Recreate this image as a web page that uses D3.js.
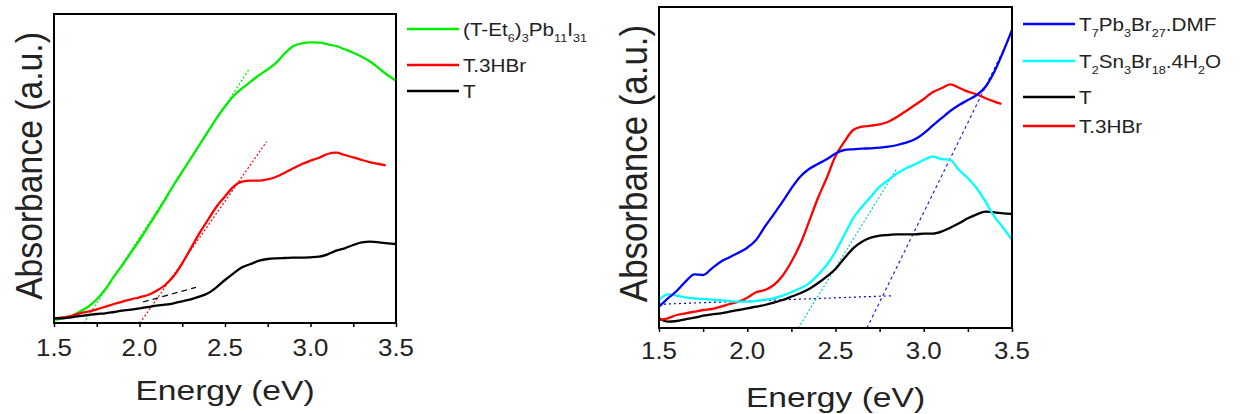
<!DOCTYPE html>
<html><head><meta charset="utf-8">
<script src="https://cdn.jsdelivr.net/npm/d3@7"></script>
<style>body{margin:0;background:#fff}svg{display:block}text{font-family:"Liberation Sans",Arial,sans-serif;fill:#222}</style>
</head><body><svg id="c" width="1242" height="414"></svg>
<script>
// ---------- data: energy (eV) grid and absorbance (arbitrary units) ----------
const energy = [1.50,1.55,1.60,1.65,1.70,1.75,1.80,1.85,1.90,1.95,2.00,2.05,2.10,2.15,2.20,2.25,2.30,2.35,2.40,2.45,2.50,
                2.55,2.60,2.65,2.70,2.75,2.80,2.85,2.90,2.95,3.00,3.05,3.10,3.15,3.20,3.25,3.30,3.35,3.40,3.45,3.50];
// left panel
const leftGreen = [3,4.7,7,11.3,16.3,23.7,33.7,46.3,58,70.3,83,96.3,109.7,123.7,138,151.3,164.7,178,191.3,204.7,216.5,
                   227,234.7,241.3,248,253.7,260.3,269.7,277,279.7,280.7,280.3,278.7,277,273.7,270.3,266.3,261.3,254.7,248,242.3];
const leftRed   = [4.7,5.7,7,9.7,11.3,13.7,16.3,19,21.3,23.7,25.7,28,32.3,38,47,59.7,74.7,89.7,103,116.3,126.5,
                   136.3,141.3,142.3,142.3,143.7,146.3,150.3,154.7,159,162.3,165.3,169,170.3,168,165.7,163,160.7,159,157.7];
const leftRedEnergy = energy.slice(0, 39).concat([3.44]);
const leftBlack = [4.7,4.7,5.7,7,8,9,9.7,11,12.3,13.3,14.7,16,17.3,18.3,19.7,21.7,23.7,26.3,29.7,35.7,43,
                   49.7,55.7,59,62.3,64,64.7,65,65.3,65.3,65.7,66.3,68.7,72.3,74.7,78,80.7,81.3,80.7,79.7,79];
// right panel
const rightBlue = [21.3,29.7,37,46.3,53.7,53,59.7,66.3,70.7,75.3,80.3,88,101.3,113.7,126.3,139.7,151.3,159,164,168.7,174.5,
                   178,178.7,179.3,179.7,180.3,181.3,183,185.3,188.7,194.7,202.3,209.7,217,223,228,233,241.3,256.3,276.3,298];
const rightRed  = [8,9.7,13,14.7,16.3,18,19,21.3,24,26.3,30.3,35.7,38,43,52.3,66.3,83.7,106.3,129.7,150,172,
                   186.3,198,201.3,202.3,203.7,206.3,211.3,217,223,229,235.7,239.7,243.7,240.3,236.3,233.7,229.7,226.3,224];
const rightRedEnergy = energy.slice(0, 39).concat([3.44]);
const rightCyan = [28,33.7,32.3,30.7,29.7,29,28.3,27.7,27,26.3,26.3,27,28.3,29.7,32.3,35.7,39.7,44.7,53,63,76.5,
                   93,109.7,121.3,131.3,141.3,148,154.7,159.7,163.7,168,171.3,169,168,158,149.7,139.7,126.3,111.3,100.3,88];
const rightBlack= [9.7,6.3,7,8.7,10.3,12.3,13.7,14.7,16.3,18,19.7,21.3,23,25.3,28,31.3,34.7,39,44.7,51.3,59,
                   69.7,79.7,86.3,90.3,92.3,93,93.7,93.7,93.7,94.3,94.3,96.3,100.3,104.7,109.7,113.7,116.3,115.7,114.7,114];
// onset (tangent / baseline) fit lines: [energy, absorbance] end points
const leftFitGreen = [[1.675,0],[2.64,253.7]];
const leftFitRed   = [[2.003,0],[2.743,181.3]];
const leftFitBlack = [[2.02,21],[2.33,35.7]];
const rightFitBase  = [[1.5,23.7],[2.828,32.3]];
const rightFitBlue  = [[2.678,0],[3.489,291.3]];
const rightFitCyan  = [[2.289,0],[2.85,160]];

const xTicks = [1.5, 2.0, 2.5, 3.0, 3.5];
const xMinor = [1.75, 2.25, 2.75, 3.25];
const leftLegend = [
  {c:"#00ee00", parts:[["(T-Et",0],["6",1],[")",0],["3",1],["Pb",0],["11",1],["I",0],["31",1]]},
  {c:"#ff0000", parts:[["T.3HBr",0]]},
  {c:"#000000", parts:[["T",0]]}
];
const rightLegend = [
  {c:"#0000ff", parts:[["T",0],["7",1],["Pb",0],["3",1],["Br",0],["27",1],[".DMF",0]]},
  {c:"#00ffff", parts:[["T",0],["2",1],["Sn",0],["3",1],["Br",0],["18",1],[".4H",0],["2",1],["O",0]]},
  {c:"#000000", parts:[["T",0]]},
  {c:"#ff0000", parts:[["T.3HBr",0]]}
];

const zip = (es, vs) => vs.map((v, i) => ({e: es[i], a: v}));

const panels = [
  {x0:54, x1:396, y0:14, y1:323, yMax:309, tickY:356, labY:400, ylabX:29, ylabY:166, ylabF:33.7, ylabS:1.1,
   legX:407, legY:[29,65,91], legend:leftLegend,
   series:[
     {c:"#00ee00", d:zip(energy, leftGreen)},
     {c:"#ff0000", d:zip(leftRedEnergy, leftRed)},
     {c:"#000000", d:zip(energy, leftBlack)}
   ],
   fits:[
     {c:"#00ee00", dash:"2,2", p:leftFitGreen},
     {c:"#ff0000", dash:"2,2", p:leftFitRed},
     {c:"#000000", dash:"6,4", p:leftFitBlack}
   ]},
  {x0:659, x1:1012, y0:7, y1:328, yMax:321, tickY:359, labY:407, ylabX:633, ylabY:163.5, ylabF:34.9, ylabS:1.13,
   legX:1023, legY:[24,61,97,126], legend:rightLegend,
   series:[
     {c:"#000000", d:zip(energy, rightBlack)},
     {c:"#ff0000", d:zip(rightRedEnergy, rightRed)},
     {c:"#00ffff", d:zip(energy, rightCyan)},
     {c:"#0000ff", d:zip(energy, rightBlue)}
   ],
   fits:[
     {c:"#0000cc", dash:"2,3", p:rightFitBase},
     {c:"#2222dd", dash:"3,3", p:rightFitBlue},
     {c:"#00cccc", dash:"2,2", p:rightFitCyan}
   ]}
];

const svg = d3.select("#c");
panels.forEach(P => {
  const x = d3.scaleLinear().domain([1.5, 3.5]).range([P.x0, P.x1]);
  const y = d3.scaleLinear().domain([0, P.yMax]).range([P.y1, P.y0]);
  const g = svg.append("g");
  const clipId = "clip" + P.x0;
  g.append("clipPath").attr("id", clipId).append("rect")
    .attr("x", P.x0).attr("y", P.y0).attr("width", P.x1-P.x0).attr("height", P.y1-P.y0);
  const line = d3.line().x(d => x(d.e)).y(d => y(d.a)).curve(d3.curveMonotoneX);
  const body = g.append("g").attr("clip-path", `url(#${clipId})`);
  P.fits.forEach(f => {
    body.append("path").attr("d", d3.line().x(d => x(d[0])).y(d => y(d[1]))(f.p))
      .attr("fill","none").attr("stroke", f.c).attr("stroke-width", 1.2).attr("stroke-dasharray", f.dash);
  });
  P.series.forEach(s => {
    body.append("path").attr("d", line(s.d)).attr("fill","none")
      .attr("stroke", s.c).attr("stroke-width", 2.3).attr("stroke-linejoin","round");
  });
  g.append("rect").attr("x", P.x0).attr("y", P.y0).attr("width", P.x1-P.x0).attr("height", P.y1-P.y0)
    .attr("fill","none").attr("stroke","#000").attr("stroke-width", 2);
  const ax = d3.axisBottom(x).tickValues(xTicks.concat(xMinor)).tickSize(4).tickFormat("");
  const axg = g.append("g").attr("transform", `translate(0,${P.y1})`).call(ax);
  axg.select(".domain").remove();
  axg.selectAll("line").attr("stroke","#000").attr("stroke-width",1.5);
  xTicks.forEach(t => {
    g.append("text").attr("transform", `translate(${x(t)},${P.tickY}) scale(1.1,1)`)
      .attr("text-anchor","middle").attr("font-size", 23.5).text(t.toFixed(1));
  });
  g.append("text").attr("transform", `translate(${(P.x0+P.x1)/2},${P.labY}) scale(1.2,1)`)
    .attr("text-anchor","middle").attr("font-size", 28).text("Energy (eV)");
  g.append("text").attr("transform", `translate(${P.ylabX},${P.ylabY}) rotate(-90) scale(1,${P.ylabS})`)
    .attr("text-anchor","middle").attr("dy","0.35em").attr("font-size", P.ylabF).text("Absorbance (a.u.)");
  P.legend.forEach((L, i) => {
    const ly = P.legY[i];
    g.append("line").attr("x1", P.legX).attr("x2", P.legX + 52).attr("y1", ly).attr("y2", ly)
      .attr("stroke", L.c).attr("stroke-width", 2.3);
    const t = g.append("text").attr("transform", `translate(${P.legX+56},${ly+7}) scale(1.15,1)`)
      .attr("font-size", 18);
    let prevSub = false;
    L.parts.forEach(([s, sub]) => {
      const dy = sub ? (prevSub ? 0 : 6) : (prevSub ? -6 : 0);
      t.append("tspan").attr("font-size", sub ? 11 : 18).attr("dy", dy).text(s);
      prevSub = !!sub;
    });
  });
});
</script></body></html>
